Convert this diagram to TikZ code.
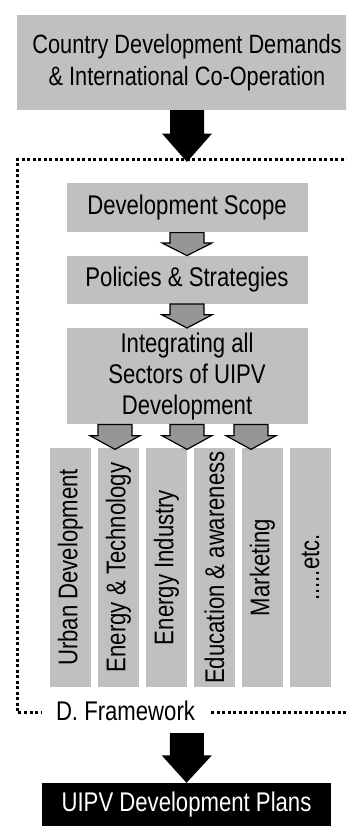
\documentclass[tikz,border=0pt]{standalone}
\usepackage{fontspec}
\setmainfont{Liberation Sans}[FakeStretch=0.82]
\usetikzlibrary{positioning,calc}
\definecolor{boxgray}{RGB}{192,192,192}
\definecolor{arrowgray}{RGB}{150,150,150}
\newcommand{\moreetc}{.....etc.}
\tikzset{
  every node/.style={font=\fontsize{27}{31}\selectfont},
  panel/.style={fill=boxgray, inner sep=0pt, align=center},
  sector/.style={fill=boxgray, minimum width=41pt, minimum height=239pt, inner sep=0pt},
  heavy/.style={fill=black},
  light/.style={fill=arrowgray, draw=black, line width=1.2pt, line join=miter},
  frameline/.style={line width=3pt, dash pattern=on 3pt off 2.5pt}
}
% block arrow from a top point down to a tip
\newcommand{\blockarrow}[3]{%
  \path[#1] ($(#2)+(-17,0)$) -- ($(#2)!0.45!(#3)+(-17,0)$) -- ($(#2)!0.45!(#3)+(-25,0)$)
    -- (#3) -- ($(#2)!0.45!(#3)+(25,0)$) -- ($(#2)!0.45!(#3)+(17,0)$) -- ($(#2)+(17,0)$) -- cycle;}

\begin{document}
\begin{tikzpicture}[x=1pt, y=-1pt]
  \useasboundingbox (0,0) rectangle (346,826);
  \clip (0,0) rectangle (346,826);

  % dotted framework border
  \draw[frameline] (360,160) -| (17,712) -- (360,712);
  \node[fill=white, inner xsep=14pt, inner ysep=2pt] (framework) at (125.5,711) {D. Framework};

  \node[panel, minimum width=340pt, minimum height=95pt, font=\fontsize{26.5}{32}\selectfont] (demands) at (187,62.5)
    {Country Development Demands\\ \& International Co-Operation};
  \node[panel, minimum width=241pt, minimum height=49pt, below=73pt of demands] (scope) {Development Scope};
  \node[panel, minimum width=241pt, minimum height=48pt, below=23pt of scope] (policies) {Policies \& Strategies};
  \node[panel, minimum width=241pt, minimum height=96pt, below=24pt of policies] (sectors)
    {Integrating all\\Sectors of UIPV\\Development};

  \foreach \name [count=\i] in {Urban Development, Energy \& Technology, Energy Industry,
      Education \& awareness, Marketing, \moreetc}
    \node[sector] (s\i) at ({70.5+48*(\i-1)},567.5) {\rotatebox{90}{\name}};

  \node[fill=black, text=white, minimum width=289pt, minimum height=43pt] (plans) at (186.5,804.5)
    {UIPV Development Plans};

  % arrows
  \coordinate (gate) at (187,162);
  \coordinate (outlet) at (187,733);
  \blockarrow{heavy}{demands.south}{gate}
  \blockarrow{heavy}{outlet}{plans.north}
  \blockarrow{light}{scope.south}{policies.north}
  \blockarrow{light}{policies.south}{sectors.north}
  \foreach \dx [count=\j] in {-72,0,64} {
    \coordinate (fork\j) at ($(sectors.south)+(\dx,0)$);
    \coordinate (land\j) at ($(fork\j)+(0,25)$);
    \blockarrow{light}{fork\j}{land\j}
  }
\end{tikzpicture}
\end{document}
